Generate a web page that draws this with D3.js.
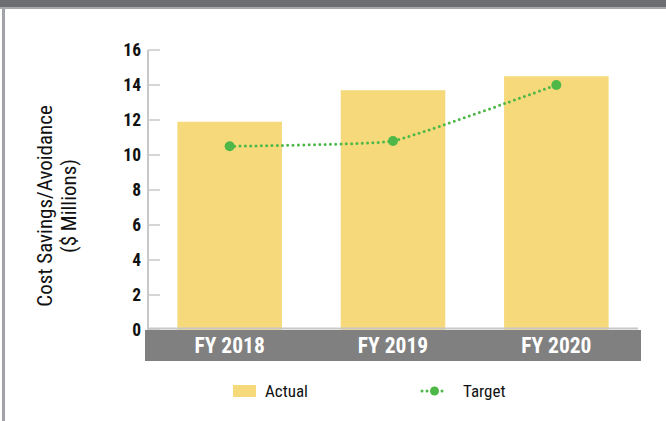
<!DOCTYPE html>
<html><head><meta charset="utf-8">
<script src="https://cdn.jsdelivr.net/npm/d3@7"></script>
<style>
html,body{margin:0;padding:0;background:#fff;}
svg{display:block;}
text{font-family:"Liberation Sans Narrow","Arial Narrow","Roboto Condensed","Liberation Sans",sans-serif;}
</style></head>
<body>
<svg id="c" width="666" height="421"></svg>
<script>
const categories = ["FY 2018", "FY 2019", "FY 2020"];
const actual = [11.9, 13.7, 14.5];
const target = [10.5, 10.8, 14.0];
const yTicks = [0, 2, 4, 6, 8, 10, 12, 14, 16];
const yTitle = ["Cost Savings/Avoidance", "($ Millions)"];
const legendLabels = ["Actual", "Target"];

const barColor = "#f6d97a", lineColor = "#4db848";
const svg = d3.select("#c");

// frame
svg.append("rect").attr("x",0).attr("y",0).attr("width",666).attr("height",7).attr("fill","#6d6e71");
svg.append("rect").attr("x",0).attr("y",7).attr("width",666).attr("height",2).attr("fill","#a7a9ac");
svg.append("rect").attr("x",2).attr("y",9).attr("width",3).attr("height",412).attr("fill","#a0a2a5");

const x = d3.scaleBand().domain(categories).range([148, 638]).paddingInner(0.36).paddingOuter(0.18);
const y = d3.scaleLinear().domain([0, 16]).range([330, 50]);

// axis line and ticks
const ax = svg.append("g");
ax.append("line").attr("x1",148).attr("x2",148).attr("y1",y(16)).attr("y2",y(0)).attr("stroke","#c8c8c8").attr("stroke-width",2);
ax.selectAll("line.t").data(yTicks).enter().append("line").attr("class","t")
  .attr("x1",148).attr("x2",160).attr("y1",d=>y(d)).attr("y2",d=>y(d)).attr("stroke","#c8c8c8").attr("stroke-width",1.5);
ax.selectAll("text").data(yTicks).enter().append("text")
  .attr("x",141).attr("y",d=>y(d)+6).attr("text-anchor","end").attr("font-size",17.5).attr("font-weight","bold").attr("fill","#111")
  .text(d=>d);

// bars
svg.selectAll("rect.bar").data(actual).enter().append("rect").attr("class","bar")
  .attr("x",(d,i)=>x(categories[i])).attr("width",x.bandwidth())
  .attr("y",d=>y(d)).attr("height",d=>y(0)-y(d)).attr("fill",barColor);

// baseline
svg.append("line").attr("x1",148).attr("x2",638).attr("y1",328.5).attr("y2",328.5).attr("stroke","#c8c8c8").attr("stroke-width",2);

// category band
svg.append("rect").attr("x",145).attr("y",330).attr("width",496).attr("height",31).attr("fill","#808080");
svg.selectAll("text.cat").data(categories).enter().append("text").attr("class","cat")
  .attr("x",d=>x(d)+x.bandwidth()/2).attr("y",353).attr("text-anchor","middle")
  .attr("font-size",21.5).attr("font-weight","bold").attr("fill","#fff").text(d=>d);

// target line
const pts = target.map((v,i)=>[x(categories[i])+x.bandwidth()/2, y(v)]);
svg.append("path").attr("d", d3.line().curve(d3.curveCardinal.tension(0.65))(pts))
  .attr("fill","none").attr("stroke",lineColor).attr("stroke-width",3)
  .attr("stroke-linecap","round").attr("stroke-dasharray","0 5.3");
svg.selectAll("circle.pt").data(pts).enter().append("circle").attr("class","pt")
  .attr("cx",d=>d[0]).attr("cy",d=>d[1]).attr("r",5).attr("fill",lineColor);

// y title
const tt = svg.append("text").attr("transform","translate(52,206) rotate(-90)").attr("text-anchor","middle")
  .attr("font-size",21).attr("fill","#111");
tt.append("tspan").attr("x",0).attr("y",0).text(yTitle[0]);
tt.append("tspan").attr("x",0).attr("y",24).text(yTitle[1]);

// legend
svg.append("rect").attr("x",233).attr("y",385).attr("width",23).attr("height",12).attr("fill",barColor);
svg.append("text").attr("x",265).attr("y",397).attr("font-size",17).attr("fill","#111").text(legendLabels[0]);
svg.append("path").attr("d", d3.line()([[422,391],[447,391]]))
  .attr("stroke",lineColor).attr("stroke-width",3).attr("stroke-linecap","round").attr("stroke-dasharray","0 5");
svg.append("circle").attr("cx",434.5).attr("cy",391).attr("r",4.5).attr("fill",lineColor);
svg.append("text").attr("x",463).attr("y",397).attr("font-size",17).attr("fill","#111").text(legendLabels[1]);
</script>
</body></html>
